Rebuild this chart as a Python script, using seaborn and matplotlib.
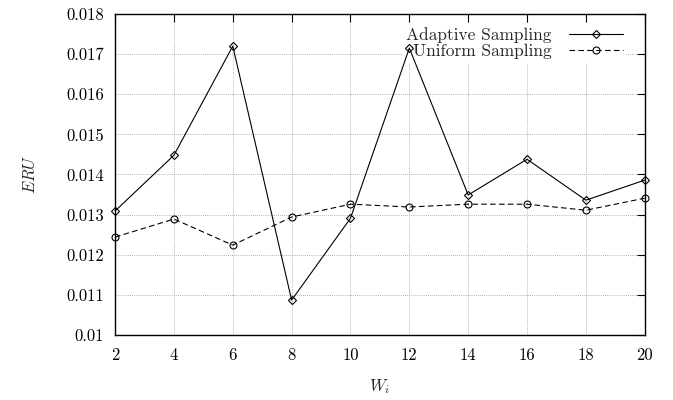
import numpy as np
import pandas as pd
import matplotlib
matplotlib.use("Agg")
import matplotlib.pyplot as plt
import seaborn as sns
from matplotlib.ticker import FuncFormatter

window = [2, 4, 6, 8, 10, 12, 14, 16, 18, 20]
adaptive = [0.01309, 0.01448, 0.01720, 0.01087, 0.01291, 0.01715, 0.01349, 0.01438, 0.01336, 0.01386]
uniform = [0.01244, 0.01289, 0.01224, 0.01294, 0.01326, 0.01319, 0.01326, 0.01326, 0.01311, 0.01341]
y_ticks = [0.010, 0.011, 0.012, 0.013, 0.014, 0.015, 0.016, 0.017, 0.018]

sns.set_style("white")
plt.rcParams["font.family"] = ["cmr10", "DejaVu Serif"]
plt.rcParams["mathtext.fontset"] = "cm"
plt.rcParams["axes.unicode_minus"] = False

fig = plt.figure(figsize=(6.73, 4), dpi=100)
ax = fig.add_axes([0.171, 0.1625, 0.787, 0.8025])

df = pd.DataFrame({"w": window, "adaptive": adaptive, "uniform": uniform})

sns.lineplot(data=df, x="w", y="adaptive", ax=ax, color="black", lw=0.8,
             marker="D", markersize=4.2, markerfacecolor="none", markeredgecolor="black",
             markeredgewidth=0.8, label="Adaptive Sampling", zorder=3, clip_on=False)
sns.lineplot(data=df, x="w", y="uniform", ax=ax, color="black", lw=0.8,
             linestyle=(0, (5, 3)), marker="o", markersize=5, markerfacecolor="none",
             markeredgecolor="black", markeredgewidth=0.8, label="Uniform Sampling",
             zorder=3, clip_on=False)

ax.set_xlim(2, 20)
ax.set_ylim(0.01, 0.018)
ax.set_xticks(window)
ax.set_yticks(y_ticks)
ax.yaxis.set_major_formatter(FuncFormatter(lambda v, p: "%g" % round(v, 4)))
ax.tick_params(direction="in", top=True, right=True, length=6, width=0.8,
               labelsize=12, colors="black")
ax.tick_params(axis="y", pad=8)
ax.tick_params(axis="x", pad=9)
ax.grid(True, color="#999999", linestyle=(0, (1, 1.5)), linewidth=0.6)
ax.set_axisbelow(True)
for s in ax.spines.values():
    s.set_color("black")
    s.set_linewidth(1.0)

ax.set_xlabel("$W_i$", fontsize=12, labelpad=10)
ax.set_ylabel("$ERU$", fontsize=12, labelpad=20)

leg = ax.legend(loc="upper right", bbox_to_anchor=(0.965, 0.97), markerfirst=False,
                frameon=True, fontsize=12.5, handlelength=3.1, borderaxespad=0.0,
                labelspacing=0.05, handletextpad=1.0, borderpad=0.2)
leg.get_frame().set_edgecolor("none")
leg.get_frame().set_facecolor("white")
leg.get_frame().set_alpha(1.0)
leg.set_zorder(2.5)
for t in leg.get_texts():
    t.set_ha("right")

fig.savefig("out.png", dpi=100)
